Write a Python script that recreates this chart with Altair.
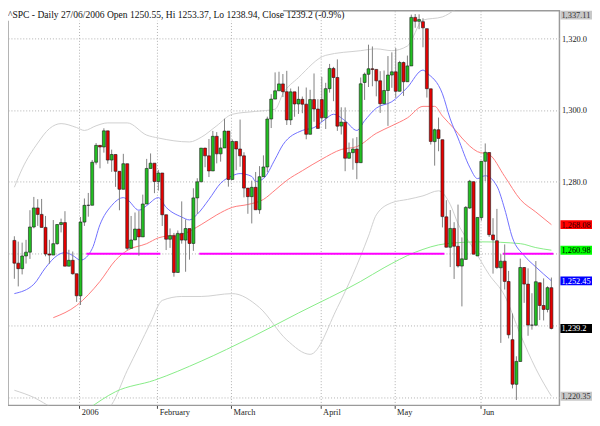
import altair as alt
import pandas as pd

# ---------------- candle data (S&P 500 daily, Dec 7 2005 .. Jun 27 2006) -------------
dec_o = [1263.70, 1257.37, 1255.84, 1259.37, 1260.43, 1267.43, 1272.74, 1270.94, 1267.32, 1259.92, 1259.62, 1262.79, 1268.12, 1268.66, 1256.54, 1258.17, 1254.42]
dec_h = [1264.85, 1263.36, 1263.08, 1263.86, 1272.11, 1275.80, 1275.17, 1275.24, 1270.51, 1263.86, 1269.37, 1268.19, 1269.76, 1271.83, 1261.10, 1260.61, 1254.42]
dec_l = [1253.02, 1250.91, 1254.24, 1257.26, 1258.56, 1267.07, 1267.74, 1267.32, 1259.28, 1257.21, 1259.62, 1262.50, 1265.92, 1256.54, 1256.54, 1254.18, 1246.59]
dec_c = [1257.37, 1255.84, 1259.37, 1260.43, 1267.43, 1272.74, 1270.94, 1267.32, 1259.92, 1259.62, 1262.79, 1268.12, 1268.66, 1256.54, 1258.17, 1254.42, 1248.29]

jan_o = [1248.29, 1268.80, 1273.46, 1273.48, 1285.45, 1290.15, 1289.69, 1294.18, 1286.06, 1287.61, 1282.93, 1277.93, 1285.04, 1261.49, 1263.82, 1266.86, 1264.68, 1273.83, 1283.72, 1285.19]
jan_h = [1270.22, 1275.37, 1276.91, 1286.09, 1290.78, 1290.15, 1294.90, 1294.18, 1288.96, 1287.61, 1282.93, 1287.79, 1285.04, 1270.50, 1271.47, 1271.87, 1276.44, 1286.38, 1287.90, 1285.20]
jan_l = [1245.74, 1267.74, 1270.30, 1273.48, 1284.82, 1283.76, 1288.12, 1285.04, 1282.78, 1278.61, 1272.08, 1277.93, 1260.92, 1261.49, 1263.82, 1259.42, 1264.68, 1273.83, 1283.72, 1276.85]
jan_c = [1268.80, 1273.46, 1273.48, 1285.45, 1290.15, 1289.69, 1294.18, 1286.06, 1287.61, 1282.93, 1277.93, 1285.04, 1261.49, 1263.82, 1266.86, 1264.68, 1273.83, 1283.72, 1285.19, 1280.08]

feb_o = [1280.08, 1282.46, 1270.84, 1264.03, 1265.02, 1254.78, 1265.65, 1263.78, 1266.99, 1262.86, 1275.53, 1280.00, 1289.38, 1287.24, 1283.03, 1292.67, 1287.79, 1289.43, 1294.12]
feb_h = [1283.33, 1282.46, 1270.87, 1267.04, 1265.78, 1266.47, 1274.56, 1269.54, 1266.99, 1278.21, 1281.00, 1289.39, 1289.47, 1291.92, 1294.17, 1293.84, 1292.11, 1297.57, 1294.12]
feb_l = [1277.57, 1267.72, 1261.02, 1261.62, 1253.61, 1254.78, 1262.80, 1254.98, 1258.34, 1260.80, 1271.06, 1280.00, 1284.07, 1281.33, 1283.03, 1285.14, 1285.62, 1289.43, 1278.66]
feb_c = [1282.46, 1270.84, 1264.03, 1265.02, 1254.78, 1265.65, 1263.78, 1266.99, 1262.86, 1275.53, 1280.00, 1289.38, 1287.24, 1283.03, 1292.67, 1287.79, 1289.43, 1294.12, 1280.66]

mar_o = [1280.66, 1291.24, 1289.14, 1287.23, 1278.26, 1275.88, 1278.47, 1272.23, 1281.42, 1284.13, 1297.48, 1303.02, 1305.33, 1307.25, 1305.08, 1297.23, 1305.04, 1301.67, 1302.95, 1301.61, 1293.23, 1302.89, 1300.25]
mar_h = [1291.80, 1291.24, 1297.33, 1288.23, 1278.26, 1280.33, 1282.74, 1284.37, 1287.37, 1298.14, 1304.40, 1310.45, 1310.64, 1310.00, 1310.88, 1305.97, 1305.04, 1306.53, 1303.74, 1306.24, 1305.60, 1310.15, 1303.00]
mar_l = [1280.66, 1283.22, 1284.20, 1275.67, 1271.11, 1268.42, 1272.23, 1271.11, 1281.42, 1282.67, 1294.97, 1303.02, 1305.33, 1303.59, 1295.82, 1295.81, 1298.11, 1298.89, 1299.09, 1291.84, 1293.23, 1296.72, 1294.87]
mar_c = [1291.24, 1289.14, 1287.23, 1278.26, 1275.88, 1278.47, 1272.23, 1281.42, 1284.13, 1297.48, 1303.02, 1305.33, 1307.25, 1305.08, 1297.23, 1305.04, 1301.67, 1302.95, 1301.61, 1293.23, 1302.89, 1300.25, 1294.87]

apr_o = [1302.88, 1297.81, 1305.93, 1311.56, 1309.04, 1295.51, 1296.60, 1286.57, 1288.12, 1289.12, 1285.33, 1307.65, 1309.93, 1311.46, 1311.28, 1308.11, 1301.74, 1305.41, 1309.72]
apr_h = [1309.19, 1307.55, 1312.81, 1311.99, 1314.07, 1300.74, 1300.71, 1290.93, 1292.09, 1292.45, 1309.02, 1310.39, 1318.16, 1317.67, 1311.28, 1310.79, 1310.97, 1315.00, 1316.04]
apr_l = [1296.65, 1294.71, 1304.82, 1302.44, 1294.18, 1293.17, 1282.96, 1286.45, 1283.37, 1280.74, 1285.33, 1302.79, 1306.38, 1306.59, 1303.79, 1299.17, 1301.74, 1295.57, 1306.16]
apr_c = [1297.81, 1305.93, 1311.56, 1309.04, 1295.50, 1296.62, 1286.57, 1288.12, 1289.12, 1285.33, 1307.28, 1309.93, 1311.46, 1311.28, 1308.11, 1301.74, 1305.41, 1309.72, 1310.61]

may_o = [1310.61, 1305.19, 1313.21, 1307.85, 1312.25, 1325.76, 1324.66, 1324.57, 1322.63, 1305.88, 1291.19, 1294.50, 1291.73, 1270.25, 1261.81, 1267.03, 1262.06, 1256.56, 1258.41, 1272.71, 1280.04, 1259.38]
may_h = [1317.21, 1313.66, 1313.47, 1315.14, 1326.53, 1326.70, 1326.60, 1325.51, 1322.63, 1305.88, 1294.81, 1297.88, 1291.73, 1274.89, 1272.15, 1268.77, 1273.67, 1264.53, 1273.26, 1280.54, 1280.04, 1270.09]
may_l = [1303.46, 1305.19, 1303.92, 1307.85, 1312.25, 1322.87, 1322.48, 1317.44, 1303.45, 1290.38, 1284.51, 1288.51, 1267.31, 1261.75, 1256.28, 1252.98, 1256.15, 1245.34, 1258.41, 1272.50, 1259.87, 1259.38]
may_c = [1305.19, 1313.21, 1307.85, 1312.25, 1325.76, 1324.66, 1325.14, 1322.85, 1305.92, 1291.24, 1294.50, 1292.08, 1270.32, 1261.81, 1267.03, 1262.07, 1256.58, 1258.57, 1272.88, 1280.16, 1259.87, 1270.09]

jun_o = [1270.05, 1285.71, 1288.16, 1265.23, 1263.61, 1256.08, 1257.93, 1252.27, 1236.08, 1223.66, 1230.01, 1256.16, 1251.54, 1240.12, 1240.09, 1251.92, 1245.59, 1244.50, 1250.55]
jun_h = [1285.71, 1290.68, 1288.16, 1269.88, 1272.47, 1259.85, 1262.58, 1255.22, 1243.37, 1231.46, 1258.64, 1256.27, 1255.93, 1249.01, 1257.96, 1251.92, 1253.13, 1250.92, 1253.37]
jun_l = [1269.19, 1280.22, 1264.66, 1254.46, 1255.77, 1235.18, 1250.03, 1236.43, 1222.52, 1219.29, 1230.01, 1246.33, 1237.17, 1238.87, 1240.09, 1241.53, 1241.43, 1243.68, 1238.94]
jun_c = [1285.71, 1288.22, 1265.29, 1263.85, 1256.15, 1257.93, 1252.30, 1237.44, 1223.69, 1230.04, 1256.16, 1251.54, 1240.13, 1240.12, 1252.20, 1245.60, 1244.50, 1250.56, 1239.20]

# ---------------- overlay lines (trading-day index, value) ----------------
ma_blue_i = [0, 5, 8, 11, 13, 15, 17, 20, 22, 25, 28, 29, 32, 34, 37, 39, 43, 45, 47, 50, 53, 56, 58, 61, 62, 64, 67, 69, 74, 77, 80, 82, 85, 88, 90, 93, 97, 101, 105, 106, 110, 112, 114, 117, 119, 121, 124, 126, 128, 131, 134, 138]
ma_blue_v = [1248.9, 1251.5, 1256.1, 1259.5, 1260.3, 1259.5, 1258.2, 1261.4, 1268.1, 1273.4, 1275.6, 1275.1, 1272.1, 1273.4, 1275.6, 1272.9, 1270.2, 1269.4, 1271.0, 1275.1, 1279.6, 1281.7, 1282.3, 1281.5, 1280.1, 1280.9, 1286.3, 1290.3, 1294.3, 1295.1, 1297.5, 1298.8, 1297.0, 1294.3, 1297.0, 1300.5, 1302.3, 1306.3, 1311.1, 1310.3, 1304.5, 1297.5, 1292.2, 1284.1, 1280.9, 1281.7, 1278.8, 1272.4, 1264.4, 1259.5, 1256.3, 1252.45]

ma_red_i = [10, 16, 22, 26, 29, 34, 37, 39, 43, 48, 52, 56, 60, 64, 67, 70, 74, 79, 84, 88, 93, 97, 101, 105, 108, 110, 113, 115, 119, 122, 126, 130, 134, 138]
ma_red_v = [1242.2, 1245.6, 1252.3, 1258.2, 1260.9, 1262.8, 1264.4, 1264.9, 1265.4, 1268.1, 1270.8, 1272.9, 1273.7, 1275.1, 1277.7, 1280.4, 1283.1, 1286.3, 1289.0, 1289.8, 1293.5, 1295.6, 1297.8, 1301.0, 1301.0, 1298.3, 1294.8, 1292.2, 1288.4, 1287.6, 1281.5, 1275.1, 1271.6, 1268.08]

ma_green_i = [19, 26, 36, 48, 61, 73, 89, 95, 103, 111, 120, 130, 134, 138]
ma_green_v = [1216.8, 1221.6, 1224.8, 1230.1, 1236.8, 1243.5, 1252.3, 1256.1, 1260.4, 1262.8, 1263.3, 1262.8, 1261.7, 1260.98]

bb_up_i = [0, 2, 6, 9, 12, 16, 18, 21, 24, 29, 34, 37, 45, 48, 52, 56, 62, 67, 69, 73, 80, 89, 93, 97, 101, 105, 110, 113, 115, 120, 128, 138]
bb_up_v = [1278.5, 1283.6, 1290.8, 1294.8, 1296.2, 1295.1, 1294.3, 1295.6, 1296.4, 1296.4, 1293.0, 1292.2, 1291.1, 1292.4, 1295.6, 1298.8, 1299.6, 1300.2, 1304.5, 1309.0, 1315.2, 1316.5, 1317.0, 1316.5, 1317.8, 1325.0, 1325.9, 1327.7, 1329.1, 1335.0, 1340.0, 1337.11]

bb_lo_i = [0, 5, 10, 20, 25, 29, 32, 35, 38, 43, 48, 56, 63, 70, 76, 83, 91, 93, 97, 101, 105, 109, 112, 114, 118, 122, 126, 130, 134, 138]
bb_lo_v = [1222.0, 1220.0, 1217.0, 1214.0, 1218.0, 1227.5, 1234.1, 1240.8, 1247.0, 1248.1, 1248.1, 1248.9, 1245.0, 1236.0, 1232.0, 1245.0, 1264.9, 1270.8, 1274.2, 1275.1, 1276.1, 1277.5, 1273.7, 1268.4, 1261.4, 1254.2, 1248.3, 1237.6, 1228.0, 1220.35]

# horizontal support line (three segments)
support_level = 1260.0
support_start = [18.5, 47.5, 125.5]
support_end = [37.5, 110.5, 138.5]

# right-hand value tags
tag_values = [1337.11, 1268.08, 1260.98, 1252.45, 1239.2, 1220.35]
tag_labels = ["1,337.11", "1,268.08", "1,260.98", "1,252.45", "1,239.2", "1,220.35"]
tag_bg = ["#c8c8c8", "#ff0000", "#00ff00", "#0000ff", "#000000", "#c8c8c8"]
tag_fg = ["#333333", "#2a0000", "#000000", "#ffffff", "#ffffff", "#333333"]

month_labels = ["2006", "February", "March", "April", "May", "Jun"]
month_start = [17, 37, 56, 79, 98, 120]
price_ticks = [1220, 1240, 1260, 1280, 1300, 1320]

title_text = "^SPC - Daily 27/06/2006 Open 1250.55, Hi 1253.37, Lo 1238.94, Close 1239.2 (-0.9%)"

# ---------------- build tables ----------------
opens = dec_o + jan_o + feb_o + mar_o + apr_o + may_o + jun_o
highs = dec_h + jan_h + feb_h + mar_h + apr_h + may_h + jun_h
lows = dec_l + jan_l + feb_l + mar_l + apr_l + may_l + jun_l
closes = dec_c + jan_c + feb_c + mar_c + apr_c + may_c + jun_c

candles = pd.DataFrame({
    "i": list(range(len(closes))),
    "open": opens, "high": highs, "low": lows, "close": closes,
})
candles["dir"] = ["up" if c >= o else "down" for o, c in zip(opens, closes)]

W, H = 559, 400
xs = alt.Scale(domain=[-0.37, 138.8], nice=False, zero=False)
ys = alt.Scale(domain=[1217.8, 1327.6], nice=False, zero=False)

tick_vals = [m - 0.3 for m in month_start]
bounds = [(a + b) / 2 for a, b in zip(month_start[:-1], month_start[1:])]
expr = "'" + month_labels[-1] + "'"
for b, lab in reversed(list(zip(bounds, month_labels[:-1]))):
    expr = f"datum.value < {b} ? '{lab}' : ({expr})"

FONT = "Liberation Serif"
x_axis = alt.Axis(values=tick_vals, labelExpr=expr, grid=True, gridColor="#b0b0b0",
                  gridDash=[1, 2], gridWidth=1, domain=False, ticks=True, tickSize=3,
                  tickColor="#444444", labelAlign="left", labelBaseline="top",
                  labelPadding=-1, labelOffset=2, labelFont=FONT, labelFontSize=8.5,
                  labelColor="#222222", labelOverlap=False, labelBound=False, title=None)
# labels under the value tags are hidden in the reference
y_axis = alt.Axis(orient="right", values=price_ticks, grid=True,
                  labelExpr="datum.value < 1270 ? '' : format(datum.value, ',.1f')",
                  gridColor="#b0b0b0", gridDash=[1, 2], gridWidth=1, domain=False,
                  ticks=False, labelPadding=2, labelFont=FONT, labelFontSize=8.5,
                  labelColor="#222222", title=None)


def X(f):
    return alt.X(f, scale=xs, axis=x_axis)


def Y(f):
    return alt.Y(f, scale=ys, axis=y_axis)


def line_layer(idx, vals, color):
    df = pd.DataFrame({"i": idx, "v": vals})
    return alt.Chart(df).mark_line(color=color, strokeWidth=1, clip=True,
                                   interpolate="monotone").encode(x=X("i:Q"), y=Y("v:Q"))


bb_up = line_layer(bb_up_i, bb_up_v, "#cfcfcf")
bb_lo = line_layer(bb_lo_i, bb_lo_v, "#cfcfcf")
ma_g = line_layer(ma_green_i, ma_green_v, "#86ec86")
ma_r = line_layer(ma_red_i, ma_red_v, "#ff7b7b")
ma_b = line_layer(ma_blue_i, ma_blue_v, "#6f6fff")

support = alt.Chart(pd.DataFrame({"s": support_start, "e": support_end,
                                  "lvl": [support_level] * len(support_start)})).mark_rule(
    color="#ff00ff", strokeWidth=2, clip=True).encode(x=X("s:Q"), x2="e:Q", y=Y("lvl:Q"))

wicks = alt.Chart(candles).mark_rule(color="#808080", strokeWidth=1, clip=True).encode(
    x=X("i:Q"), y=Y("low:Q"), y2="high:Q")
bodies = alt.Chart(candles).mark_bar(size=3, stroke="#1a1a1a", strokeWidth=0.6, clip=True).encode(
    x=X("i:Q"), y=Y("open:Q"), y2="close:Q",
    color=alt.Color("dir:N", scale=alt.Scale(domain=["up", "down"], range=["#22c022", "#e60000"]),
                    legend=None))

tags = pd.DataFrame({"v": tag_values, "lab": tag_labels, "bg": tag_bg, "fg": tag_fg})
tag_rect = alt.Chart(tags).transform_calculate(pos="min(datum.v, 1326.4)").mark_rect(
    yOffset=-4.5, y2Offset=4.5, clip=False).encode(
    x=alt.value(W + 1), x2=alt.value(W + 34), y=Y("pos:Q"), y2="pos:Q",
    color=alt.Color("bg:N", scale=None))
tag_text = alt.Chart(tags).transform_calculate(pos="min(datum.v, 1326.4)").mark_text(
    align="left", baseline="middle", dx=1, font=FONT, fontSize=8.5, clip=False).encode(
    x=alt.value(W + 1), y=Y("pos:Q"), text="lab:N", color=alt.Color("fg:N", scale=None))

one = pd.DataFrame({"t": [title_text]})
title_bg = alt.Chart(one).mark_rect(color="white").encode(
    x=alt.value(-2), x2=alt.value(279), y=alt.value(-2), y2=alt.value(10))
title = alt.Chart(one).mark_text(align="left", baseline="middle", font=FONT, fontSize=9.7,
                                 color="#111111").encode(
    x=alt.value(0), y=alt.value(4.5), text="t:N")

chart = alt.layer(bb_up, bb_lo, ma_g, ma_r, ma_b, support, wicks, bodies,
                  tag_rect, tag_text, title_bg, title).properties(
    width=W, height=H,
    autosize=alt.AutoSizeParams(type="none"),
    padding={"left": 0, "top": 0, "right": 33, "bottom": 10},
    background="white",
).configure_view(stroke="#9a9a9a", strokeWidth=1.5)

chart.save("out.html", embed_options={"renderer": "svg", "actions": False})
